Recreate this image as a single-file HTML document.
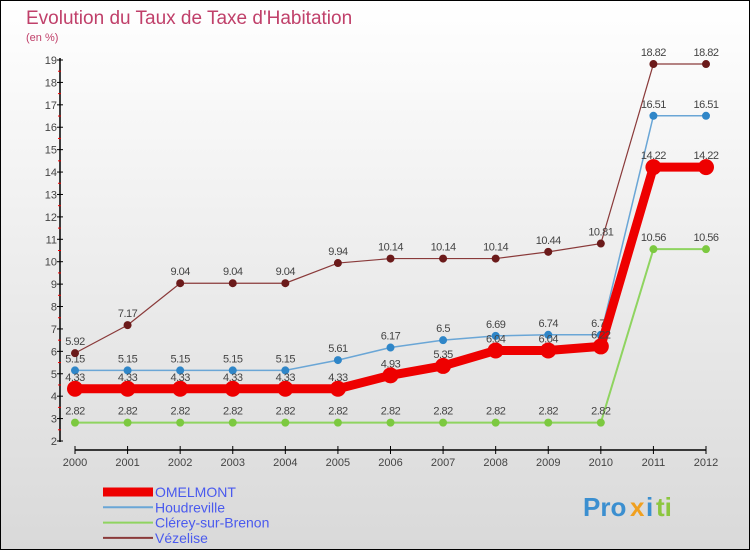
<!DOCTYPE html>
<html><head><meta charset="utf-8"><style>
body{margin:0}
svg{display:block;font-family:"Liberation Sans",sans-serif}
</style></head><body>
<svg width="750" height="550" viewBox="0 0 750 550">
<defs><linearGradient id="bg" x1="0" y1="0" x2="0" y2="1"><stop offset="0" stop-color="#ffffff"/><stop offset="1" stop-color="#d9d9d9"/></linearGradient></defs>
<rect x="0.5" y="0.5" width="749" height="549" fill="url(#bg)" stroke="#000"/>
<text x="26" y="24" font-size="19" fill="#c0406a">Evolution du Taux de Taxe d'Habitation</text>
<text x="26" y="41" font-size="11" fill="#c0406a">(en %)</text>
<g id="axes"></g>
<g id="series"></g>
<g id="legend"></g>
<g font-size="26" font-weight="bold">
<text x="583" y="516" fill="#3b8fd0">Pro</text><text x="630" y="516" fill="#f0a020">x</text><text x="646" y="516" fill="#3b8fd0">i</text><text x="656" y="516" fill="#8cc63f">ti</text>
</g>
</svg>
<script>
const years=[2000,2001,2002,2003,2004,2005,2006,2007,2008,2009,2010,2011,2012];
const omelmont=[4.33,4.33,4.33,4.33,4.33,4.33,4.93,5.35,6.04,6.04,6.22,14.22,14.22];
const houdreville=[5.15,5.15,5.15,5.15,5.15,5.61,6.17,6.5,6.69,6.74,6.74,16.51,16.51];
const clerey=[2.82,2.82,2.82,2.82,2.82,2.82,2.82,2.82,2.82,2.82,2.82,10.56,10.56];
const vezelise=[5.92,7.17,9.04,9.04,9.04,9.94,10.14,10.14,10.14,10.44,10.81,18.82,18.82];
const yTicks=[2,3,4,5,6,7,8,9,10,11,12,13,14,15,16,17,18,19];
const NS="http://www.w3.org/2000/svg";
const X=i=>75+i*(706-75)/(years.length-1);
const Y=v=>441-(v-2)*(441-60)/17;
function mk(tag,attrs,parent,txt){const e=document.createElementNS(NS,tag);for(const k in attrs)e.setAttribute(k,attrs[k]);if(txt!==undefined)e.textContent=txt;parent.appendChild(e);return e;}
const ax=document.getElementById('axes');
let yl=mk('line',{x1:60,y1:58,x2:60,y2:442,stroke:'#000','stroke-width':1.5},ax);


yTicks.forEach(t=>{
 mk('line',{x1:57,y1:Y(t),x2:63,y2:Y(t),stroke:'#000'},ax);
 if(t<19) mk('line',{x1:58,y1:Y(t+0.5),x2:61,y2:Y(t+0.5),stroke:'#e00'},ax);
 const tx=mk('text',{x:57,y:Y(t)+4,'font-size':11,fill:'#444','text-anchor':'end'},ax,t);
 
 
});
let xl=mk('line',{x1:75,y1:450,x2:706,y2:450,stroke:'#000','stroke-width':1.5},ax);


years.forEach((yr,i)=>{
 mk('line',{x1:X(i),y1:446,x2:X(i),y2:454,stroke:'#000'},ax);
 const tx=mk('text',{x:X(i),y:466,'font-size':11,fill:'#444','text-anchor':'middle'},ax,yr);
 
 
});
const S=document.getElementById('series');
const series=[
 {name:'clerey',data:clerey,color:'#8fd460',dot:'#7cc940',w:2,r:4},
 {name:'houdreville',data:houdreville,color:'#6aa6d6',dot:'#2f86c8',w:1.5,r:4},
 {name:'vezelise',data:vezelise,color:'#8a3a3a',dot:'#6b1a1a',w:1.2,r:4},
 {name:'omelmont',data:omelmont,color:'#ee0000',dot:'#ee0000',w:9,r:8}
];
series.forEach(s=>{
 const g=mk('g',{},S);
 
 
 const pl=mk('polyline',{points:s.data.map((v,i)=>X(i)+','+Y(v)).join(' '),fill:'none',stroke:s.color,'stroke-width':s.w},g);
 
 
 s.data.forEach((v,i)=>{
  const c=mk('circle',{cx:X(i),cy:Y(v),r:s.r,fill:s.dot},g);
  
  
  const t=mk('text',{x:X(i),y:Y(v)-8,'font-size':11,fill:'#444','text-anchor':'middle','letter-spacing':'-0.5'},g,v);
  
  
 });
});
const L=document.getElementById('legend');
const leg=[['OMELMONT','#ee0000',9],['Houdreville','#6aa6d6',2],['Clérey-sur-Brenon','#8fd460',2],['Vézelise','#8a3a3a',2]];
leg.forEach((l,i)=>{
 const y=492+i*15.3;
 const g=mk('g',{},L);
 
 
 mk('line',{x1:103,y1:y,x2:153,y2:y,stroke:l[1],'stroke-width':l[2]},g);
 mk('text',{x:155,y:y+5,'font-size':14,fill:'#4a5aee'},g,l[0]);
});
</script>
</body></html>
